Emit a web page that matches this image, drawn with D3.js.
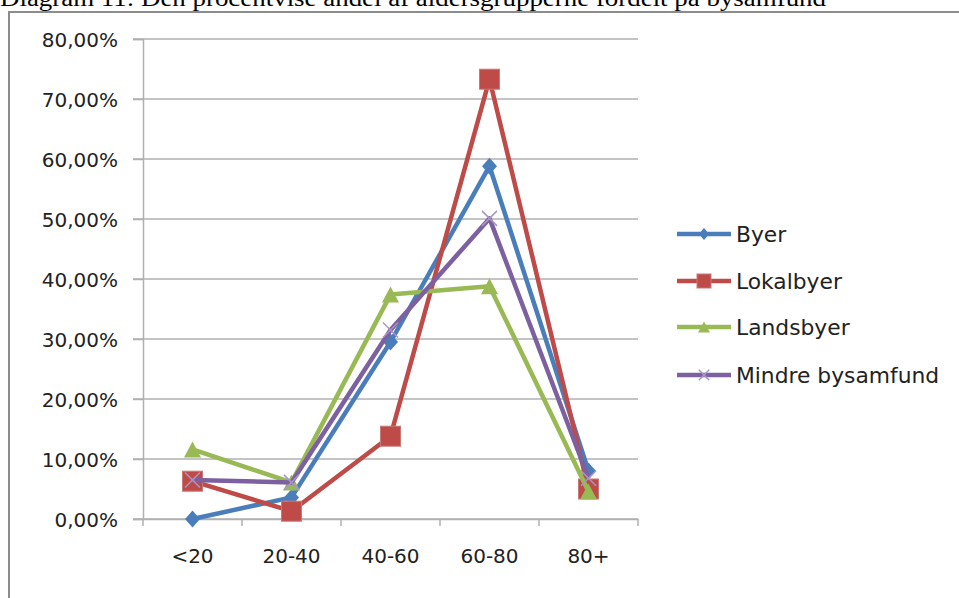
<!DOCTYPE html>
<html><head><meta charset="utf-8">
<script src="https://cdn.jsdelivr.net/npm/d3@7"></script>
<style>html,body{margin:0;padding:0;background:#fff;overflow:hidden}</style>
</head><body>
<svg id="c" width="959" height="598"></svg>
<script>
const titleText = "Diagram 11: Den procentvise andel af aldersgrupperne fordelt på bysamfund";
const categories = ["<20", "20-40", "40-60", "60-80", "80+"];
const yTicks = [0, 0.1, 0.2, 0.3, 0.4, 0.5, 0.6, 0.7, 0.8];
const seriesNames = ["Byer", "Lokalbyer", "Landsbyer", "Mindre bysamfund"];
const byer = [0.000, 0.036, 0.295, 0.588, 0.080];
const lokalbyer = [0.063, 0.013, 0.138, 0.733, 0.050];
const landsbyer = [0.116, 0.061, 0.374, 0.388, 0.046];
const mindre = [0.065, 0.061, 0.315, 0.501, 0.068];
const colors = ["#4a7ebb", "#be4b48", "#98b954", "#7d60a0"];
const markers = ["diamond", "square", "triangle", "x"];
const seriesValues = [byer, lokalbyer, landsbyer, mindre];

const svg = d3.select("#c");
const W = 959, H = 598;
const m = {left: 143, right: 321, top: 39, bottom: 79};

// title (partially cut off at the top, as in the source)
svg.append("text").attr("x", 0).attr("y", 6)
  .attr("font-family", "Liberation Serif, Times New Roman, serif")
  .attr("font-size", 24).attr("fill", "#000")
  .attr("textLength", 826).attr("lengthAdjust", "spacingAndGlyphs")
  .text(titleText);

// chart frame
svg.append("rect").attr("x", 9).attr("y", 12).attr("width", W + 20).attr("height", H + 20)
  .attr("fill", "#fff").attr("stroke", "#8c8c8c").attr("stroke-width", 2);

const x = d3.scaleBand().domain(categories).range([m.left, W - m.right]);
const y = d3.scaleLinear().domain([0, 0.8]).range([H - m.bottom, m.top]);

const gridColor = "#b0b0b0";
svg.append("g").selectAll("line").data(yTicks).join("line")
  .attr("x1", m.left - 10).attr("x2", W - m.right)
  .attr("y1", d => y(d)).attr("y2", d => y(d))
  .attr("stroke", gridColor).attr("stroke-width", 1.5);

const fmt = d => d3.format(".2f")(d * 100).replace(".", ",") + "%";
const yAxis = svg.append("g").attr("transform", `translate(${m.left},0)`)
  .call(d3.axisLeft(y).tickValues(yTicks).tickFormat(fmt).tickSize(10).tickPadding(15));
yAxis.select(".domain").attr("stroke", gridColor).attr("stroke-width", 1.5);
yAxis.selectAll(".tick line").attr("stroke", gridColor).attr("stroke-width", 1.5);
yAxis.selectAll("text").attr("font-family", "DejaVu Sans, sans-serif").attr("font-size", 20)
  .attr("fill", "#222").attr("dy", "0.36em");

const xAxis = svg.append("g").attr("transform", `translate(0,${y(0)})`)
  .call(d3.axisBottom(x).tickSize(0).tickPadding(30));
xAxis.select(".domain").attr("stroke", gridColor).attr("stroke-width", 1.5);
xAxis.selectAll("text").attr("font-family", "DejaVu Sans, sans-serif").attr("font-size", 20)
  .attr("fill", "#222");
const bounds = categories.map(c => x(c)).concat([x(categories[categories.length - 1]) + x.bandwidth()]);
svg.append("g").selectAll("line").data(bounds).join("line")
  .attr("x1", d => d).attr("x2", d => d).attr("y1", y(0)).attr("y2", y(0) + 7)
  .attr("stroke", gridColor).attr("stroke-width", 1.5);

const cx = c => x(c) + x.bandwidth() / 2;

function drawMarker(g, type, color, px, py, s) {
  if (type === "diamond") {
    const w = 7.5 * s, h = 8.5 * s;
    g.append("path").attr("d", `M${px},${py - h}L${px + w},${py}L${px},${py + h}L${px - w},${py}Z`)
      .attr("fill", color);
  } else if (type === "square") {
    const h = 10 * s;
    g.append("rect").attr("x", px - h).attr("y", py - h).attr("width", 2 * h).attr("height", 2 * h)
      .attr("fill", color).attr("stroke", "#c77a78").attr("stroke-width", 1);
  } else if (type === "triangle") {
    const w = 8.5 * s, h = 8 * s;
    g.append("path").attr("d", `M${px},${py - h}L${px + w},${py + h}L${px - w},${py + h}Z`)
      .attr("fill", color);
  } else {
    const h = 7.5 * s;
    g.append("path").attr("d", `M${px - h},${py - h}L${px + h},${py + h}M${px - h},${py + h}L${px + h},${py - h}`)
      .attr("stroke", "#a996c4").attr("stroke-width", 1.5).attr("fill", "none");
  }
}

const line = d3.line().x((d, i) => cx(categories[i])).y(d => y(d));
seriesValues.forEach((vals, si) => {
  const g = svg.append("g");
  g.append("path").attr("d", line(vals)).attr("fill", "none")
    .attr("stroke", colors[si]).attr("stroke-width", 4.5).attr("stroke-linejoin", "round");
  vals.forEach((v, i) => drawMarker(g, markers[si], colors[si], cx(categories[i]), y(v), 1));
});

const legY = [234, 281, 327, 375];
const lg = svg.append("g");
seriesNames.forEach((n, i) => {
  const ly = legY[i];
  lg.append("line").attr("x1", 677).attr("x2", 731).attr("y1", ly).attr("y2", ly)
    .attr("stroke", colors[i]).attr("stroke-width", 4.5);
  drawMarker(lg, markers[i], colors[i], 704, ly, 0.7);
  lg.append("text").attr("x", 736).attr("y", ly).attr("dy", "0.36em")
    .attr("font-family", "DejaVu Sans, sans-serif").attr("font-size", 21.8).attr("fill", "#222").text(n);
});
</script>
</body></html>
